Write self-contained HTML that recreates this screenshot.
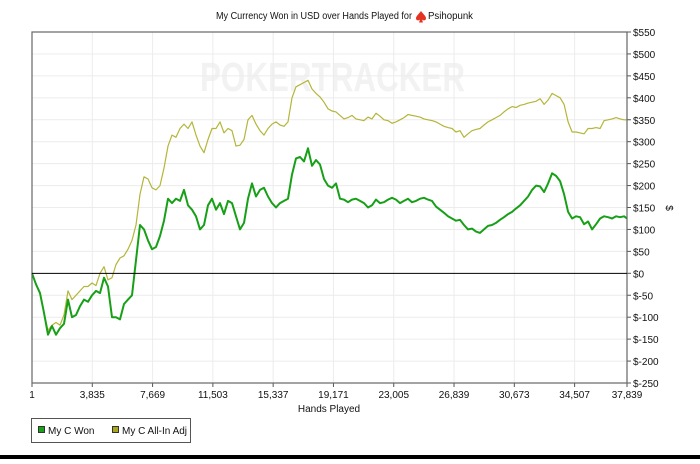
<!DOCTYPE html>
<html><head><meta charset="utf-8">
<style>
body{margin:0;background:#fff;width:700px;height:459px;overflow:hidden;font-family:"Liberation Sans",sans-serif;}
svg text{font-family:"Liberation Sans",sans-serif;}
</style></head>
<body>
<svg id="chart" width="700" height="459" xmlns="http://www.w3.org/2000/svg">
<rect x="0" y="0" width="700" height="459" fill="#fff"/>
<text x="216" y="19" font-size="10" fill="#111" textLength="196" lengthAdjust="spacingAndGlyphs">My Currency Won in USD over Hands Played for</text>
<path d="M421,11 C418,15 416,16 416,18.5 C416,20.5 418.5,21 420,19.5 L419,22.5 L423,22.5 L422,19.5 C423.5,21 426,20.5 426,18.5 C426,16 424,15 421,11 Z" fill="#e53322"/>
<text x="428" y="19" font-size="10" fill="#111" textLength="45" lengthAdjust="spacingAndGlyphs">Psihopunk</text>
<text x="200" y="91" font-size="41" font-weight="bold" fill="#f2f2f2" textLength="265" lengthAdjust="spacingAndGlyphs">POKERTRACKER</text>
<g id="grid"></g>
<g id="series"></g>
<g id="axes"></g>
<text x="329" y="412" font-size="10" text-anchor="middle" fill="#111">Hands Played</text>
<text x="666" y="208" font-size="10" text-anchor="middle" fill="#111" transform="rotate(90 666 208)">$</text>
<g>
<rect x="31.5" y="418.5" width="159" height="24" fill="#fff" stroke="#555" stroke-width="1"/>
<rect x="38.5" y="426.5" width="6" height="6" fill="#19a319" stroke="#333"/>
<text x="48" y="434" font-size="10" fill="#111">My C Won</text>
<rect x="112.5" y="426.5" width="6" height="6" fill="#a8a81a" stroke="#333"/>
<text x="122" y="434" font-size="10" fill="#111">My C All-In Adj</text>
</g>
<rect x="0" y="455" width="700" height="4" fill="#000"/>
</svg>
<script>
const xTicks = [1, 3835, 7669, 11503, 15337, 19171, 23005, 26839, 30673, 34507, 37839];
const yTicks = [-250, -200, -150, -100, -50, 0, 50, 100, 150, 200, 250, 300, 350, 400, 450, 500, 550];
const handStep = 254.4;
const totalHands = 37839;
const wonValues = [0,-25,-45,-90,-140,-120,-140,-125,-115,-60,-100,-95,-75,-60,-65,-50,-40,-45,-10,-30,-100,-100,-105,-70,-60,-50,30,110,100,75,55,60,85,120,170,160,170,165,190,155,145,130,100,110,155,170,145,160,135,165,160,130,100,115,170,205,175,190,195,175,160,150,160,165,170,225,262,265,255,285,245,258,248,215,200,195,205,170,168,162,168,170,165,160,150,155,168,160,162,168,172,168,160,165,170,162,165,170,172,168,165,152,145,138,130,125,120,122,110,100,102,95,92,100,108,110,115,122,128,135,140,148,155,165,175,190,200,198,185,205,228,222,210,180,140,125,130,128,112,118,100,112,125,130,128,125,130,128,130,125];
const allInValues = [0,-25,-45,-90,-130,-118,-112,-118,-95,-40,-60,-50,-40,-30,-30,-22,-28,0,15,-15,-10,20,35,40,55,75,110,180,220,215,195,190,200,240,290,315,310,330,340,330,345,315,290,275,305,330,330,345,320,330,325,290,292,305,350,360,340,325,315,330,340,345,338,335,345,400,425,430,435,440,420,410,402,390,375,370,368,360,352,355,360,352,350,348,356,352,365,358,350,348,342,345,350,355,362,360,358,356,352,350,348,345,340,335,332,330,322,325,310,318,325,328,330,338,345,350,355,360,368,375,380,378,383,385,388,390,392,398,385,395,410,405,400,385,345,322,322,320,318,330,330,332,330,348,350,352,355,352,350,350];

const L=32,R=627,T=32,B=383;
const xMin=1,xMax=37839,yMin=-250,yMax=550;
const sx=v=>L+(v-xMin)/(xMax-xMin)*(R-L);
const sy=v=>B-(v-yMin)/(yMax-yMin)*(B-T);
const NS='http://www.w3.org/2000/svg';
function mk(tag,attrs,parent){const e=document.createElementNS(NS,tag);for(const k in attrs)e.setAttribute(k,attrs[k]);parent.appendChild(e);return e;}
const grid=document.getElementById('grid'),axes=document.getElementById('axes'),series=document.getElementById('series');

xTicks.forEach((t,i)=>{
  const x=sx(t);
  if(i>0&&i<xTicks.length-1){const g=mk('line',{x1:x,x2:x,y1:T,y2:B,stroke:'#ececec','stroke-width':1},grid);
  
  }
  const tk=mk('line',{x1:x,x2:x,y1:B,y2:B+4,stroke:'#555'},axes);
  
  
  const lb=mk('text',{x:x,y:B+15,'font-size':10,'text-anchor':'middle',fill:'#111'},axes);
  lb.textContent=t.toLocaleString('en-US');
  
  
});
yTicks.forEach(t=>{
  const y=sy(t);
  if(t!==yMin&&t!==yMax&&t!==0){const g=mk('line',{x1:L,x2:R,y1:y,y2:y,stroke:'#ececec','stroke-width':1},grid);
  
  }
  const tk=mk('line',{x1:R,x2:R+4,y1:y,y2:y,stroke:'#555'},axes);
  
  
  const lb=mk('text',{x:R+6,y:y+4,'font-size':10,fill:'#111'},axes);
  lb.textContent=(t<0?'$-'+Math.abs(t):'$'+t);
  
  
});
const frame=mk('rect',{x:L,y:T,width:R-L,height:B-T,fill:'none',stroke:'#666','stroke-width':1.2},axes);


const zl=mk('line',{x1:L,x2:R,y1:sy(0),y2:sy(0),stroke:'#000','stroke-width':1},axes);



function hands(n){const h=[];for(let i=0;i<n-1;i++)h.push(1+i*handStep);h.push(totalHands);return h;}
function line(vals,color,w,name){
  const h=hands(vals.length);
  const d=vals.map((v,i)=>(i?'L':'M')+sx(h[i]).toFixed(1)+','+sy(v).toFixed(1)).join(' ');
  const p=mk('path',{d:d,fill:'none',stroke:color,'stroke-width':w,'stroke-linejoin':'round'},series);
  
  
}
line(allInValues,'#b5b53a',1.2,'allin-adj-line');
line(wonValues,'#17a017',2,'won-line');
</script>
</body></html>
